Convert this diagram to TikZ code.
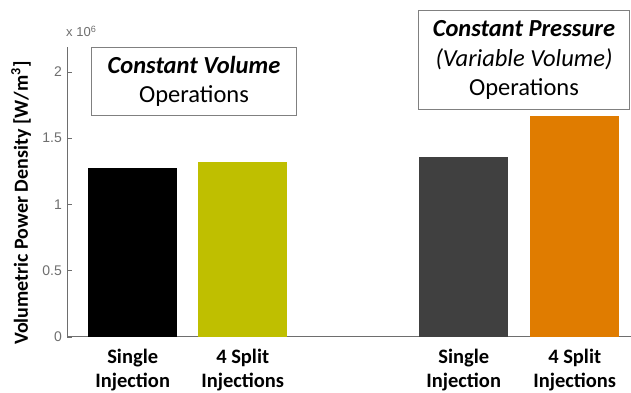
\documentclass[tikz,border=0pt]{standalone}
\usepackage{fontspec}
\setmainfont{Carlito}
\newfontfamily\axisfont{Liberation Sans}
\usetikzlibrary{positioning}
\definecolor{barolive}{RGB}{191,191,0}
\definecolor{bargray}{RGB}{64,64,64}
\definecolor{barorange}{RGB}{224,124,0}
\definecolor{axisgray}{RGB}{110,110,110}
\definecolor{boxgray}{RGB}{128,128,128}

\begin{document}
\begin{tikzpicture}[
    x=1pt, y=1pt,
    nosep/.style={inner sep=0},
    bar/.style={nosep, anchor=south west, minimum width=89pt},
    ticklbl/.style={nosep, anchor=east, text=axisgray, font=\axisfont\fontsize{14}{14}\selectfont},
    catlbl/.style={align=center, font=\bfseries\fontsize{20.5}{24}\selectfont, anchor=north},
    opbox/.style={draw=boxgray, line width=1.4pt, align=center, font=\fontsize{24.5}{29.5}\selectfont}]
\useasboundingbox (0,0) rectangle (631,393);

% axes
\draw[axisgray, line width=1pt] (67,56) coordinate (origin) -- (67,346) coordinate (ytop);
\draw[axisgray, line width=1pt] (origin) -- (631,56) coordinate (xend);
\foreach \v/\t in {0/0, 0.5/0.5, 1/1, 1.5/1.5, 2/2} {
    \draw[axisgray, line width=0.8pt] (67,56+\v*132.5) -- (72,56+\v*132.5);
    \node[ticklbl] (tick\v) at (62,56+\v*132.5) {\t};
}
\node[nosep, anchor=base west, text=axisgray, font=\axisfont\fontsize{13}{13}\selectfont] (expo) at (66,356) {x 10\textsuperscript{6}};
\node[rotate=90, font=\bfseries\fontsize{20}{20}\selectfont] (ylabel) at (21,190) {Volumetric Power Density [W/m\textsuperscript{3}]};

% bars
\node[bar, fill=black,      minimum height=1.275*132.5pt] (single1) at (88,56)  {};
\node[bar, fill=barolive,   minimum height=1.32*132.5pt]  (split1)  at (198,56) {};
\node[bar, fill=bargray,    minimum height=1.355*132.5pt] (single2) at (419,56) {};
\node[bar, fill=barorange,  minimum height=1.665*132.5pt] (split2)  at (530,56) {};

% category labels
\node[catlbl] (lsingle1) at ([yshift=-9pt]single1.south) {Single\\Injection};
\node[catlbl] (lsplit1)  at ([yshift=-9pt]split1.south)  {4 Split\\Injections};
\node[catlbl] (lsingle2) at ([yshift=-9pt]single2.south) {Single\\Injection};
\node[catlbl] (lsplit2)  at ([yshift=-9pt]split2.south)  {4 Split\\Injections};

% operation boxes
\node[opbox, minimum width=205pt, minimum height=68pt] (cvbox) at (194,311.5)
    {\textbf{\textit{Constant Volume}}\\Operations};
\node[opbox, minimum width=211pt, minimum height=99pt] (cpbox) at (524,333)
    {\textbf{\textit{Constant Pressure}}\\\textit{(Variable Volume)}\\Operations};

\end{tikzpicture}
\end{document}
